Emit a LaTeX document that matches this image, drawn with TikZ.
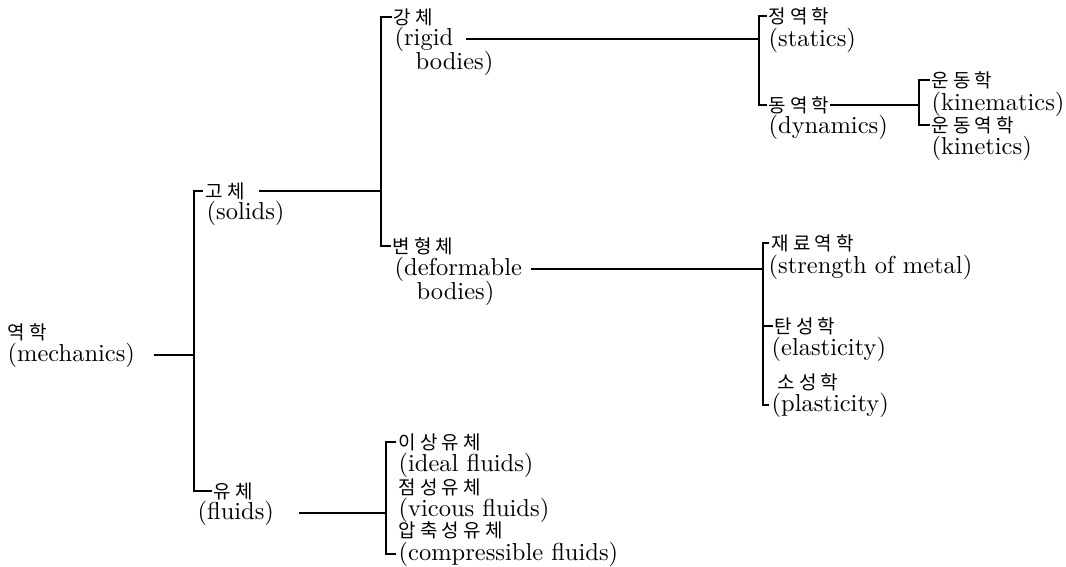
\documentclass[tikz,border=0pt]{standalone}
\usepackage{fontspec}
\setmainfont{lmroman10-regular.otf}
\newfontfamily\kofont[LetterSpace=22]{Noto Sans CJK KR}
\usepackage{tikz}

\begin{document}
\begin{tikzpicture}[
  x=1pt, y=-1pt, line width=1.2pt,
  ko/.style = {anchor=west, inner sep=0pt, font=\kofont\fontsize{19}{19}\selectfont},
  en/.style = {anchor=west, inner sep=0pt, font=\fontsize{24.5}{24}\selectfont},
]
  \useasboundingbox (0,0) rectangle (1066,566);

  % Root
  \node[ko] (mech)  at (7,332) {역학};
  \node[en] (mechE) at (7,355) {(mechanics)};

  % Level 1
  \node[ko] (sol)   at (205,191) {고체};
  \node[en] (solE)  at (206,213) {(solids)};
  \node[ko] (flu)   at (213,491) {유체};
  \node[en] (fluE)  at (197,513) {(fluids)};

  % Level 2 (solids)
  \node[ko] (rig)   at (393,17)  {강체};
  \node[en] (rigE)  at (394,39)  {(rigid};
  \node[en] (rigE2) at (415,63)  {bodies)};
  \node[ko] (def)   at (392,246) {변형체};
  \node[en] (defE)  at (394,269) {(deformable};
  \node[en] (defE2) at (416,293) {bodies)};

  % Level 2 (fluids)
  \node[ko] (id)    at (398,442) {이상유체};
  \node[en] (idE)   at (398,465) {(ideal fluids)};
  \node[ko] (vi)    at (398,487) {점성유체};
  \node[en] (viE)   at (398,510) {(vicous fluids)};
  \node[ko] (co)    at (398,530) {압축성유체};
  \node[en] (coE)   at (398,554) {(compressible fluids)};

  % Level 3 (rigid bodies)
  \node[ko] (sta)   at (768,16)  {정역학};
  \node[en] (staE)  at (768,40)  {(statics)};
  \node[ko] (dyn)   at (768,105) {동역학};
  \node[en] (dynE)  at (768,127) {(dynamics)};

  % Level 4 (dynamics)
  \node[ko] (kin)   at (931,80)  {운동학};
  \node[en] (kinE)  at (931,104) {(kinematics)};
  \node[ko] (kt)    at (931,125) {운동역학};
  \node[en] (ktE)   at (931,148) {(kinetics)};

  % Level 3 (deformable bodies)
  \node[ko] (str)   at (771,243) {재료역학};
  \node[en] (strE)  at (768,267) {(strength of metal)};
  \node[ko] (ela)   at (774,326) {탄성학};
  \node[en] (elaE)  at (771,349) {(elasticity)};
  \node[ko] (pla)   at (777,382) {소성학};
  \node[en] (plaE)  at (771,405) {(plasticity)};

  % Spine points
  \coordinate (s1) at (194,0 |- mechE.east);
  \coordinate (s2) at (381,0 |- sol.east);
  \coordinate (s3) at (759,0 |- rigE.east);
  \coordinate (s4) at (763,0 |- defE.east);
  \coordinate (s5) at (919,0 |- dyn.east);
  \coordinate (s6) at (386,0 |- fluE.east);

  % Connectors
  \draw ([xshift=18pt]mechE.east) -- (s1);
  \draw ([xshift=-2pt]sol.west) -| (s1) |- ([xshift=-1pt]flu.west);

  \draw ([xshift=14pt]sol.east) -- (s2);
  \draw ([xshift=-1pt]rig.west) -| (s2) |- ([xshift=-1pt]def.west);

  \draw ([xshift=12pt]rigE.east) -- (s3);
  \draw ([xshift=-1pt]sta.west) -| (s3) |- ([xshift=-1pt]dyn.west);

  \draw (dyn.east) -- (s5);
  \draw ([xshift=-1pt]kin.west) -| (s5) |- ([xshift=-1pt]kt.west);

  \draw ([xshift=8pt]defE.east) -- (s4);
  \draw ([xshift=-2pt]str.west) -| (s4) |- ([xshift=-2pt]plaE.west);
  \draw (ela.west -| s4) -- ([xshift=-1pt]ela.west);

  \draw ([xshift=24pt]fluE.east) -- (s6);
  \draw ([xshift=-2pt]id.west) -| (s6) |- ([xshift=-2pt]coE.west);
\end{tikzpicture}
\end{document}
